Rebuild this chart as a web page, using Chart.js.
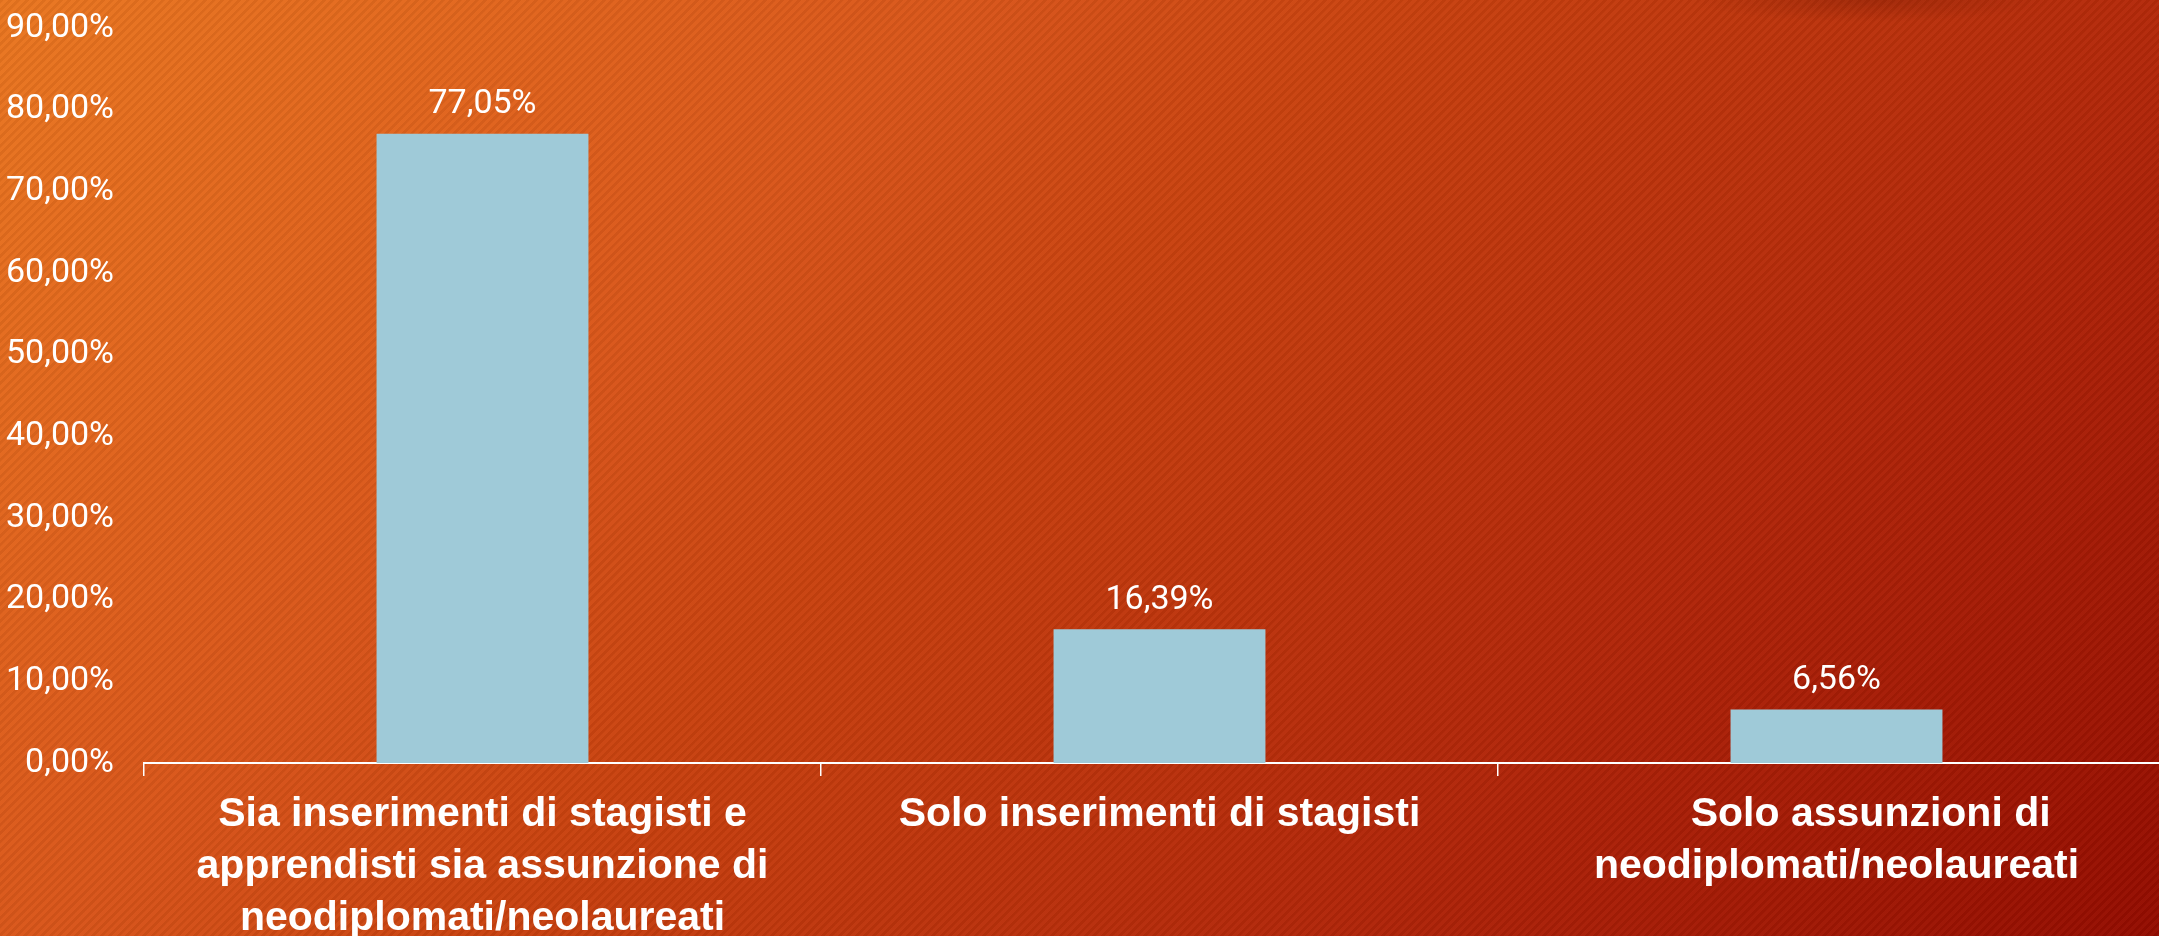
<!DOCTYPE html>
<html>
<head>
<meta charset="utf-8">
<title>Inserimenti</title>
<script src="https://cdn.jsdelivr.net/npm/chart.js@4.4.1/dist/chart.umd.min.js"></script>
<style>
  html, body {
    margin: 0;
    padding: 0;
    width: 2159px;
    height: 936px;
    overflow: hidden;
  }
  body {
    background:
      radial-gradient(ellipse 180px 22px at 1870px 0px, rgba(90, 15, 0, 0.25), rgba(90, 15, 0, 0)),
      repeating-linear-gradient(135deg, rgba(0, 0, 0, 0.05) 0px, rgba(0, 0, 0, 0.05) 2.5px, rgba(255, 255, 255, 0.02) 3px, rgba(255, 255, 255, 0.02) 6px),
      linear-gradient(135deg, #EA7620 0%, #D9561A 31%, #C9420F 45%, #B4290A 70%, #940C00 100%);
  }
  #wrap {
    position: absolute;
    left: 0;
    top: 0;
    width: 2180px;
    height: 936px;
  }
</style>
</head>
<body>
<div id="wrap"><canvas id="bar-chart"></canvas></div>
<script>
//Global variables
var categories = [
  ["Sia inserimenti di stagisti e", "apprendisti sia assunzione di", "neodiplomati/neolaureati"],
  ["Solo inserimenti di stagisti"],
  ["      Solo assunzioni di", "neodiplomati/neolaureati"]
];
var percentages = [77.05, 16.39, 6.56]; //bar values
var yMax = 90;   //top tick
var yStep = 10;  //tick spacing

var narrowFont = "'Liberation Sans Narrow', 'Roboto', sans-serif";
var boldFont = "'Liberation Sans', 'Arial', sans-serif";

/*******************************
* Italian style percent: 77,05%
*******************************/
function formatPct(v) {
  return Number(v).toFixed(2).replace('.', ',') + '%';
}

/*******************************
* Writes the value over each bar
*******************************/
var barValues = {
  id: 'barValues',
  afterDatasetsDraw: function(chart) {
    var ctx = chart.ctx;
    var meta = chart.getDatasetMeta(0);
    ctx.save();
    ctx.fillStyle = '#ffffff';
    ctx.font = '34px ' + narrowFont;
    ctx.textAlign = 'center';
    ctx.textBaseline = 'middle';
    meta.data.forEach(function(bar, i) {
      ctx.fillText(formatPct(percentages[i]), bar.x, bar.y - 29);
    });
    ctx.restore();
  }
};

/*******************************
* Draws the chart
*******************************/
new Chart("bar-chart", {
  type: "bar",
  data: {
    labels: categories,
    datasets: [{
      backgroundColor: "#9FCAD8", //light blue
      borderWidth: 0,
      barPercentage: 0.313,
      categoryPercentage: 1,
      data: percentages
    }]
  },
  options: {
    responsive: true,
    maintainAspectRatio: false,
    animation: false,
    layout: {padding: {top: 28, right: 5, bottom: 0, left: 0}},
    plugins: {
      legend: {display: false},
      tooltip: {enabled: false}
    },
    scales: {
      x: {
        afterFit: function(s) { s.height = 173; },
        border: {display: true, color: '#ffffff', width: 2},
        grid: {
          display: true,
          drawOnChartArea: false,
          drawTicks: true,
          tickLength: 13,
          color: '#ffffff',
          lineWidth: 1.5,
          offset: true
        },
        ticks: {
          color: '#ffffff',
          padding: 13,
          maxRotation: 0,
          autoSkip: false,
          font: {family: boldFont, size: 41, weight: 'bold', lineHeight: 1.27}
        }
      },
      y: {
        min: 0,
        max: yMax,
        afterFit: function(s) {
          s.width = 144;
          s.paddingTop = 0; //top of the axis sits on the layout padding
        },
        border: {display: false},
        grid: {display: false, drawTicks: false},
        ticks: {
          stepSize: yStep,
          color: '#ffffff',
          padding: 30,
          font: {family: narrowFont, size: 34},
          callback: function(v) { return formatPct(v); }
        }
      }
    }
  },
  plugins: [barValues]
});
</script>
</body>
</html>
